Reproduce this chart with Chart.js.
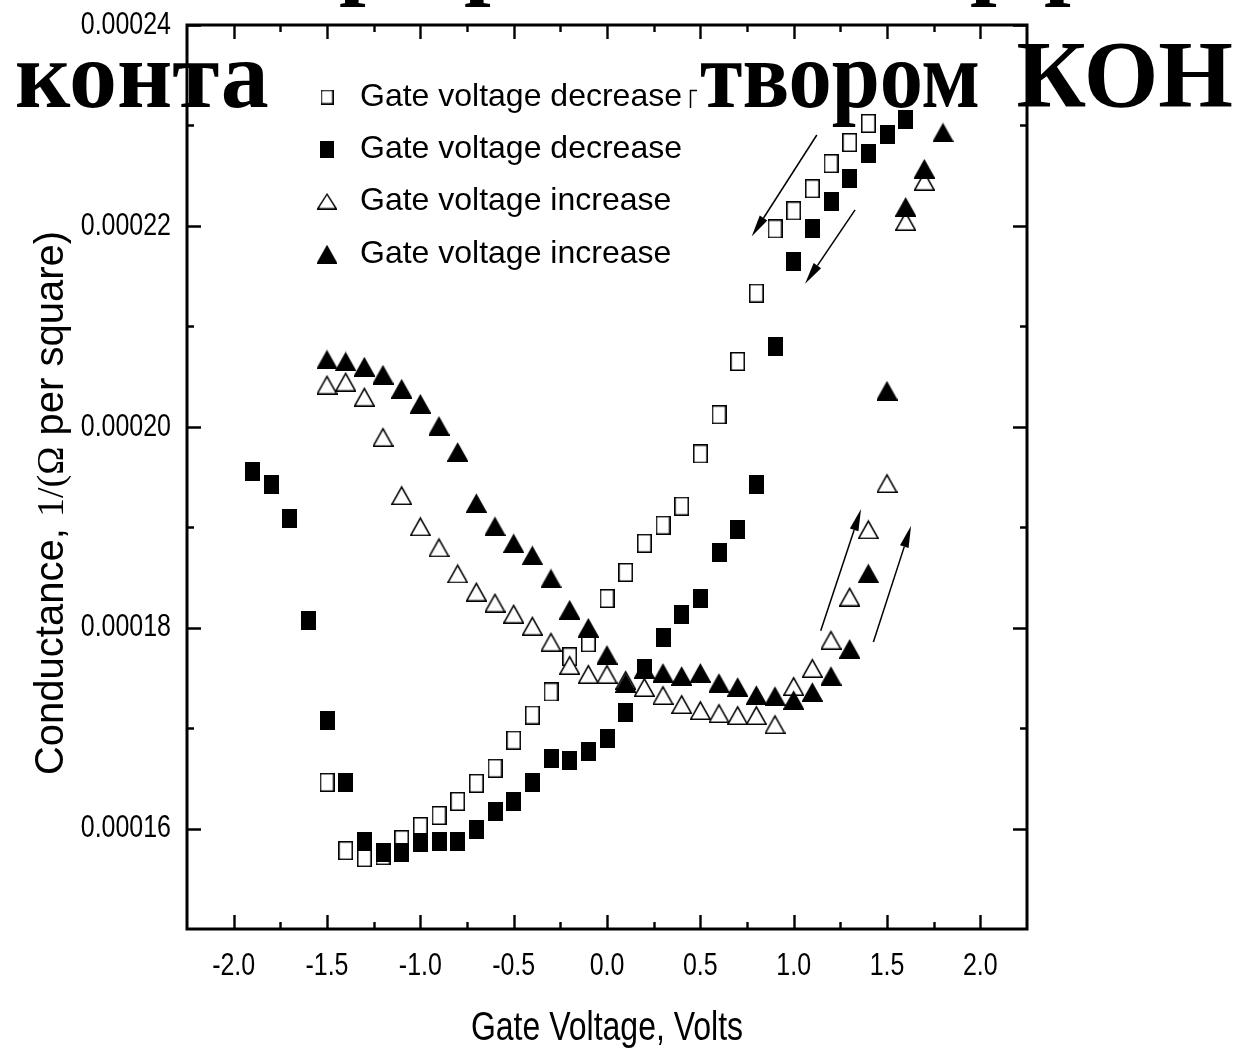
<!DOCTYPE html>
<html>
<head>
<meta charset="utf-8">
<style>
  html, body { margin: 0; padding: 0; background: #fff; }
  canvas { display: block; }
</style>
<script src="https://cdn.jsdelivr.net/npm/chart.js@4.4.1/dist/chart.umd.min.js"></script>
</head>
<body>
<canvas id="chart" width="1240" height="1053"></canvas>
<script>
// ---- axis ticks ----
const xTickValues = [-2.0, -1.5, -1.0, -0.5, 0.0, 0.5, 1.0, 1.5, 2.0];
const xTickLabels = ['-2.0', '-1.5', '-1.0', '-0.5', '0.0', '0.5', '1.0', '1.5', '2.0'];
const xMinorTicks = [-1.75, -1.25, -0.75, -0.25, 0.25, 0.75, 1.25, 1.75];
const yTickValues = [0.00016, 0.00018, 0.00020, 0.00022, 0.00024];
const yTickLabels = ['0.00016', '0.00018', '0.00020', '0.00022', '0.00024'];
const yMinorTicks = [0.00017, 0.00019, 0.00021, 0.00023];

const seriesLabels = ['Gate voltage decrease', 'Gate voltage decrease', 'Gate voltage increase', 'Gate voltage increase'];

// ---- gate voltage sweep down, first run (open squares) ----
const decOpenV = [-1.5, -1.4, -1.3, -1.2, -1.1, -1.0, -0.9, -0.8, -0.7, -0.6, -0.5, -0.4, -0.3, -0.2, -0.1,
                  0.0, 0.1, 0.2, 0.3, 0.4, 0.5, 0.6, 0.7, 0.8, 0.9, 1.0, 1.1, 1.2, 1.3, 1.4];
const decOpenG = [1.646e-4, 1.578e-4, 1.571e-4, 1.573e-4, 1.589e-4, 1.602e-4, 1.613e-4, 1.627e-4, 1.645e-4, 1.660e-4,
                  1.688e-4, 1.713e-4, 1.736e-4, 1.771e-4, 1.785e-4, 1.829e-4, 1.855e-4, 1.884e-4, 1.902e-4, 1.921e-4,
                  1.973e-4, 2.012e-4, 2.065e-4, 2.133e-4, 2.197e-4, 2.215e-4, 2.237e-4, 2.262e-4, 2.283e-4, 2.302e-4];

// ---- gate voltage sweep down, second run (filled squares) ----
const decFullV = [-1.9, -1.8, -1.7, -1.6, -1.5, -1.4, -1.3, -1.2, -1.1, -1.0, -0.9, -0.8, -0.7, -0.6, -0.5, -0.4,
                  -0.3, -0.2, -0.1, 0.0, 0.1, 0.2, 0.3, 0.4, 0.5, 0.6, 0.7, 0.8, 0.9, 1.0, 1.1, 1.2, 1.3, 1.4, 1.5, 1.6];
const decFullG = [1.955e-4, 1.943e-4, 1.909e-4, 1.807e-4, 1.708e-4, 1.646e-4, 1.587e-4, 1.576e-4, 1.576e-4, 1.586e-4,
                  1.587e-4, 1.587e-4, 1.599e-4, 1.617e-4, 1.627e-4, 1.646e-4, 1.670e-4, 1.668e-4, 1.677e-4, 1.690e-4,
                  1.716e-4, 1.759e-4, 1.790e-4, 1.813e-4, 1.829e-4, 1.875e-4, 1.898e-4, 1.943e-4, 2.080e-4, 2.165e-4,
                  2.197e-4, 2.224e-4, 2.247e-4, 2.272e-4, 2.291e-4, 2.306e-4];

// ---- gate voltage sweep up, first run (open triangles) ----
const incOpenV = [-1.5, -1.4, -1.3, -1.2, -1.1, -1.0, -0.9, -0.8, -0.7, -0.6, -0.5, -0.4, -0.3, -0.2, -0.1, 0.0, 0.1,
                  0.2, 0.3, 0.4, 0.5, 0.6, 0.7, 0.8, 0.9, 1.0, 1.1, 1.2, 1.3, 1.4, 1.5, 1.6, 1.7];
const incOpenG = [2.042e-4, 2.045e-4, 2.030e-4, 1.990e-4, 1.932e-4, 1.901e-4, 1.880e-4, 1.854e-4, 1.836e-4, 1.825e-4,
                  1.814e-4, 1.802e-4, 1.786e-4, 1.763e-4, 1.754e-4, 1.754e-4, 1.748e-4, 1.741e-4, 1.733e-4, 1.724e-4,
                  1.718e-4, 1.715e-4, 1.713e-4, 1.713e-4, 1.704e-4, 1.742e-4, 1.760e-4, 1.788e-4, 1.831e-4, 1.898e-4,
                  1.944e-4, 2.205e-4, 2.245e-4];

// ---- gate voltage sweep up, second run (filled triangles) ----
const incFullV = [-1.5, -1.4, -1.3, -1.2, -1.1, -1.0, -0.9, -0.8, -0.7, -0.6, -0.5, -0.4, -0.3, -0.2, -0.1, 0.0, 0.1,
                  0.2, 0.3, 0.4, 0.5, 0.6, 0.7, 0.8, 0.9, 1.0, 1.1, 1.2, 1.3, 1.4, 1.5, 1.6, 1.7, 1.8];
const incFullG = [2.067e-4, 2.065e-4, 2.060e-4, 2.052e-4, 2.038e-4, 2.023e-4, 2.001e-4, 1.975e-4, 1.924e-4, 1.901e-4,
                  1.884e-4, 1.872e-4, 1.849e-4, 1.818e-4, 1.800e-4, 1.773e-4, 1.745e-4, 1.759e-4, 1.755e-4, 1.752e-4,
                  1.755e-4, 1.745e-4, 1.741e-4, 1.733e-4, 1.732e-4, 1.728e-4, 1.736e-4, 1.752e-4, 1.779e-4, 1.854e-4,
                  2.036e-4, 2.219e-4, 2.257e-4, 2.293e-4];

// ---- sweep-direction arrows (data coordinates: tail -> head) ----
const arrowTailV = [1.124, 1.329, 1.145, 1.427];
const arrowTailG = [2.2905e-4, 2.2159e-4, 1.7970e-4, 1.7858e-4];
const arrowHeadV = [0.775, 1.061, 1.361, 1.629];
const arrowHeadG = [2.1894e-4, 2.1423e-4, 1.9181e-4, 1.9015e-4];

// ---- marker images ----
function makeMarker(shape, filled, w, h, lw) {
  const c = document.createElement('canvas');
  c.width = w; c.height = h;
  const g = c.getContext('2d');
  g.fillStyle = filled ? '#000' : '#fff';
  g.strokeStyle = '#000';
  g.lineWidth = lw;
  g.lineJoin = 'miter';
  g.beginPath();
  if (shape === 'square') {
    g.rect(lw / 2, lw / 2, w - lw, h - lw);
  } else {
    g.moveTo(w / 2, lw * 1.2);
    g.lineTo(w - lw / 2, h - lw / 2);
    g.lineTo(lw / 2, h - lw / 2);
    g.closePath();
  }
  g.fill();
  g.stroke();
  return c;
}
const markers = [
  makeMarker('square', false, 15, 19, 1.6),
  makeMarker('square', true, 15, 19, 1.6),
  makeMarker('triangle', false, 21, 20, 1.6),
  makeMarker('triangle', true, 21, 20, 1.6)
];
const legendMarkers = [
  makeMarker('square', false, 13, 15, 1.4),
  makeMarker('square', true, 14, 17, 1.4),
  makeMarker('triangle', false, 20, 17, 1.4),
  makeMarker('triangle', true, 20, 19, 1.4)
];

const pts = (xs, ys) => xs.map((v, i) => ({ x: v, y: ys[i] }));

const seriesX = [decOpenV, decFullV, incOpenV, incFullV];
const seriesY = [decOpenG, decFullG, incOpenG, incFullG];
const drawOrder = [3, 2, 1, 0];

const datasets = seriesX.map((xs, i) => ({
  label: seriesLabels[i],
  data: pts(xs, seriesY[i]),
  pointStyle: markers[i],
  pointRadius: 9,
  pointHoverRadius: 9,
  showLine: false,
  order: drawOrder[i]
}));

// text squeezed horizontally (narrow axis lettering)
function narrowText(ctx, text, x, y, align, sx) {
  ctx.save();
  ctx.translate(x, y);
  ctx.scale(sx, 1);
  ctx.textAlign = align;
  ctx.fillText(text, 0, 0);
  ctx.restore();
}

// frame with inward major/minor ticks on all four sides, tick labels, arrows
const frameAndArrows = {
  id: 'frameAndArrows',
  afterDatasetsDraw(chart) {
    const { ctx, chartArea: a, scales: { x, y } } = chart;
    ctx.save();
    ctx.strokeStyle = '#000';
    ctx.lineCap = 'butt';

    ctx.lineWidth = 2.4;
    ctx.beginPath();
    const vTicks = (vals, len) => vals.forEach(v => {
      const px = Math.round(x.getPixelForValue(v)) + 0.5;
      ctx.moveTo(px, a.bottom); ctx.lineTo(px, a.bottom - len);
      ctx.moveTo(px, a.top); ctx.lineTo(px, a.top + len);
    });
    const hTicks = (vals, len) => vals.forEach(v => {
      const py = Math.round(y.getPixelForValue(v)) + 0.5;
      ctx.moveTo(a.left, py); ctx.lineTo(a.left + len, py);
      ctx.moveTo(a.right, py); ctx.lineTo(a.right - len, py);
    });
    vTicks(xTickValues, 14); vTicks(xMinorTicks, 7);
    hTicks(yTickValues, 14); hTicks(yMinorTicks, 7);
    ctx.stroke();

    ctx.lineWidth = 3;
    ctx.strokeRect(a.left, a.top, a.right - a.left, a.bottom - a.top);

    // tick labels
    ctx.fillStyle = '#000';
    ctx.font = '32px "Liberation Sans"';
    ctx.textBaseline = 'middle';
    xTickValues.forEach((v, i) => narrowText(ctx, xTickLabels[i], x.getPixelForValue(v), a.bottom + 37, 'center', 0.78));
    yTickValues.forEach((v, i) => narrowText(ctx, yTickLabels[i], a.left - 16, y.getPixelForValue(v), 'right', 0.78));

    // arrows
    ctx.lineWidth = 1.5;
    arrowTailV.forEach((v, i) => {
      const x0 = x.getPixelForValue(v), y0 = y.getPixelForValue(arrowTailG[i]);
      const x1 = x.getPixelForValue(arrowHeadV[i]), y1 = y.getPixelForValue(arrowHeadG[i]);
      const ang = Math.atan2(y1 - y0, x1 - x0);
      const hl = 22, hw = 4.5;
      const bx = x1 - Math.cos(ang) * hl, by = y1 - Math.sin(ang) * hl;
      ctx.beginPath();
      ctx.moveTo(x0, y0); ctx.lineTo(bx, by);
      ctx.stroke();
      ctx.beginPath();
      ctx.moveTo(x1, y1);
      ctx.lineTo(bx + Math.sin(ang) * hw, by - Math.cos(ang) * hw);
      ctx.lineTo(bx - Math.sin(ang) * hw, by + Math.cos(ang) * hw);
      ctx.closePath();
      ctx.fill();
    });
    ctx.restore();
  }
};

// slide caption lines, legend and axis titles
const overlay = {
  id: 'overlay',
  afterDraw(chart) {
    const { ctx } = chart;
    ctx.save();
    ctx.fillStyle = '#000';
    ctx.textBaseline = 'alphabetic';

    // caption text (bold serif)
    ctx.font = 'bold 96px "Liberation Serif"';
    ctx.textAlign = 'left';
    ['р', 'р', 'р', 'р'].forEach((ch, i) => {
      ctx.fillText(ch, [339, 464, 970, 1044][i], -13);
    });
    ctx.fillText('конта', 15, 107);
    narrowText(ctx, 'твором', 700, 107, 'left', 0.9);
    ctx.textAlign = 'right';
    ctx.fillText('КОН', 1233, 107);

    // legend
    ctx.fillStyle = '#fff';
    ctx.fillRect(272, 44, 418, 80);
    ctx.fillStyle = '#000';
    ctx.strokeStyle = '#000';
    ctx.lineWidth = 1.5;
    ctx.beginPath();
    ctx.moveTo(690.5, 108); ctx.lineTo(690.5, 90.5); ctx.lineTo(697, 90.5);
    ctx.stroke();

    const rowY = [97, 149, 201, 254];
    ctx.font = '32px "Liberation Sans"';
    ctx.textAlign = 'left';
    chart.data.datasets.forEach((ds, i) => {
      const m = legendMarkers[i];
      ctx.drawImage(m, 327 - m.width / 2, rowY[i] - m.height / 2);
      ctx.fillText(ds.label, 360, rowY[i] + 9);
    });

    // x axis title
    ctx.font = '40px "Liberation Sans"';
    narrowText(ctx, 'Gate Voltage, Volts', 607, 1040, 'center', 0.8);

    // y axis title (mixed fonts)
    const parts = [
      ['Conductance, ', '40px "Liberation Sans"'],
      ['1/(Ω', '38px "Liberation Serif"'],
      [' per square)', '40px "Liberation Sans"']
    ];
    let total = 0;
    const widths = parts.map(([t, f]) => { ctx.font = f; const w = ctx.measureText(t).width; total += w; return w; });
    ctx.translate(63, 503);
    ctx.rotate(-Math.PI / 2);
    ctx.textAlign = 'left';
    let cx = -total / 2;
    parts.forEach(([t, f], i) => { ctx.font = f; ctx.fillText(t, cx, 0); cx += widths[i]; });
    ctx.restore();
  }
};

new Chart(document.getElementById('chart').getContext('2d'), {
  type: 'scatter',
  data: { datasets },
  options: {
    responsive: false,
    animation: false,
    devicePixelRatio: 1,
    layout: { padding: { top: 25, right: 213, left: 0, bottom: 0 } },
    plugins: { legend: { display: false }, tooltip: { enabled: false } },
    scales: {
      x: {
        type: 'linear', min: -2.25, max: 2.25,
        grid: { display: false, drawTicks: false },
        border: { display: false },
        afterBuildTicks: s => { s.ticks = xTickValues.map(v => ({ value: v })); },
        afterFit: s => { s.height = 124; },
        ticks: { display: false }
      },
      y: {
        type: 'linear', min: 0.00015, max: 0.00024,
        grid: { display: false, drawTicks: false },
        border: { display: false },
        afterBuildTicks: s => { s.ticks = yTickValues.map(v => ({ value: v })); },
        afterFit: s => { s.width = 187; },
        ticks: { display: false }
      }
    }
  },
  plugins: [frameAndArrows, overlay]
});
</script>
</body>
</html>
